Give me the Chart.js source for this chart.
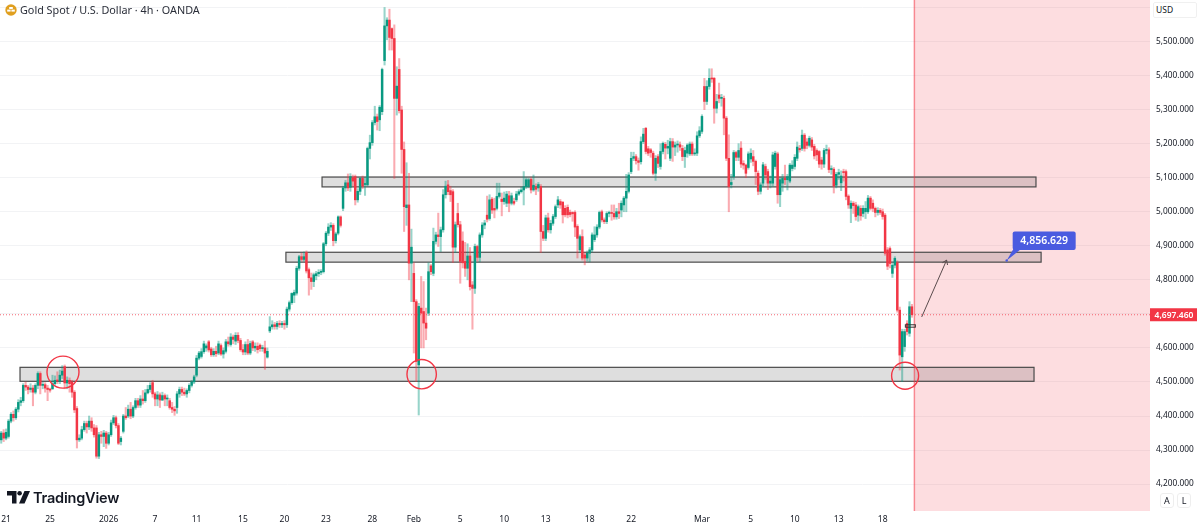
<!DOCTYPE html>
<html>
<head>
<meta charset="utf-8">
<title>Gold Spot / U.S. Dollar</title>
<script src="https://cdn.jsdelivr.net/npm/chart.js@4/dist/chart.umd.min.js"></script>
<style>
    html, body { margin: 0; padding: 0; background: #fff; overflow: hidden; }
    #wrap { position: relative; width: 1200px; height: 527px; font-family: "Noto Sans", sans-serif; color: #131722; }
    canvas { position: absolute; left: 0; top: 0; }
    .title { position: absolute; left: 20px; top: 1px; font-size: 10.8px; line-height: 17px; white-space: nowrap; color: #2a2e39; }
    .usd { position: absolute; left: 1153px; top: 2px; width: 44px; height: 16px; box-sizing: border-box; background: #fff; border: 1px solid #f0f0f0; border-radius: 2px; font-size: 8.5px; line-height: 14px; padding-left: 2px; }
    .btn { position: absolute; top: 493px; width: 14px; height: 15px; box-sizing: border-box; background: #fff; border: 1px solid #eee; border-radius: 3px; font-size: 9px; line-height: 13px; text-align: center; }
    .brand { position: absolute; left: 33px; top: 487px; font-family: Inter, sans-serif; font-weight: 600; font-size: 14.5px; line-height: 21px; color: #131722; letter-spacing: -0.2px; }
    svg { position: absolute; }
</style>
</head>
<body>
<div id="wrap">
    <canvas id="goldChart" width="1200" height="527"></canvas>
    <svg style="left:5px;top:4px" width="12" height="12" viewBox="0 0 12 12">
        <circle cx="6" cy="6" r="5.7" fill="#E09F1F"/>
        <rect x="4.2" y="3" width="3.6" height="2" fill="#fff"/>
        <rect x="2.2" y="5.6" width="3.4" height="2" fill="#fff"/>
        <rect x="6.4" y="5.6" width="3.4" height="2" fill="#fff"/>
    </svg>
    <div class="title">Gold Spot / U.S. Dollar · 4h · OANDA</div>
    <div class="usd">USD</div>
    <div class="btn" style="left:1160px">A</div>
    <div class="btn" style="left:1177px">L</div>
    <svg style="left:7px;top:491px" width="24" height="13" viewBox="0 0 24 13">
        <path d="M0 0H9.5V12.5H5V4.5H0Z" fill="#131722"/>
        <circle cx="12.6" cy="2.3" r="2.3" fill="#131722"/>
        <path d="M17.5 0H23L17.5 12.5H12Z" fill="#131722"/>
    </svg>
    <div class="brand">TradingView</div>
</div>
<script>
// 4h candles
const opens = [
    4330,4350,4335,4340,4385,4405,4395,4420,4440,4445,
    4490,4485,4478,4482,4470,4490,4525,4490,4492,4482,
    4478,4480,4495,4505,4503,4520,4545,4497,4505,4500,
    4470,4422,4330,4335,4360,4378,4368,4385,4365,4365,
    4282,4345,4340,4350,4320,4345,4380,4395,4372,4325,
    4355,4400,4400,4420,4400,4425,4445,4432,4450,4445,
    4468,4478,4498,4465,4450,4462,4447,4460,4450,4445,
    4425,4420,4425,4465,4478,4470,4465,4475,4490,4500,
    4520,4570,4575,4589,4600,4618,4597,4580,4590,4585,
    4607,4582,4590,4618,4610,4632,4620,4637,4622,4595,
    4588,4610,4585,4618,4600,4605,4608,4598,4600,4573,
    4650,4662,4668,4663,4672,4668,4672,4668,4714,4733,
    4755,4761,4834,4868,4860,4880,4830,4806,4795,4812,
    4818,4822,4824,4906,4937,4955,4960,4915,4937,4985,
    5010,5070,5085,5072,5100,5103,5035,5060,5098,5080,
    5079,5186,5203,5262,5279,5270,5294,5444,5546,5563,
    5538,5509,5333,5418,5299,5183,5012,5020,4849,4819,
    4736,4550,4717,4707,4673,4702,4841,4819,4913,4932,
    4927,4947,5050,5079,5062,5059,4896,4995,4962,4914,
    4854,4834,4870,4785,4775,4898,4866,4932,4961,4990,
    4980,5037,5010,5010,5045,5037,5030,5025,5047,5025,
    5030,5035,5052,5059,5064,5074,5074,5095,5064,5073,
    5070,5074,4942,4922,4982,4947,4966,4986,5020,5030,
    5028,5010,5013,4998,4998,4998,4957,4888,4927,4873,
    4864,4878,4888,4918,4932,4955,5000,4976,4971,4995,
    4998,4995,4985,5000,5005,5020,5040,5060,5118,5157,
    5162,5150,5147,5206,5245,5185,5182,5172,5113,5162,
    5133,5177,5198,5187,5157,5206,5190,5196,5197,5186,
    5162,5172,5170,5199,5170,5172,5223,5236,5368,5324,
    5368,5392,5392,5304,5343,5333,5333,5275,5157,5080,
    5103,5174,5160,5187,5142,5137,5130,5155,5162,5148,
    5113,5060,5084,5133,5118,5084,5084,5133,5170,5050,
    5084,5098,5094,5090,5127,5133,5157,5186,5186,5225,
    5205,5195,5211,5192,5180,5177,5152,5140,5180,5182,
    5124,5125,5078,5110,5085,5118,5118,5046,5010,5025,
    5020,4990,5010,4995,5000,5000,5040,5025,5010,4998,
    5004,5000,4990,4888,4892,4819,4843,4850,4711,4574,
    4604,4672,4643,4721
];
const closes = [
    4350,4335,4352,4385,4405,4395,4420,4440,4445,4490,
    4485,4478,4482,4470,4490,4525,4490,4492,4482,4478,
    4476,4495,4505,4503,4520,4532,4497,4505,4495,4470,
    4418,4330,4335,4360,4378,4368,4385,4365,4345,4282,
    4345,4340,4350,4320,4345,4380,4395,4372,4320,4335,
    4400,4395,4420,4400,4425,4445,4432,4450,4445,4468,
    4478,4490,4465,4450,4462,4447,4460,4450,4452,4425,
    4420,4415,4465,4478,4470,4465,4475,4490,4500,4515,
    4570,4585,4589,4612,4606,4594,4580,4590,4583,4612,
    4582,4592,4618,4612,4632,4625,4637,4622,4595,4588,
    4610,4585,4613,4600,4605,4595,4598,4600,4585,4590,
    4662,4668,4663,4672,4668,4672,4668,4714,4733,4760,
    4763,4834,4868,4860,4868,4826,4806,4795,4815,4818,
    4822,4824,4906,4937,4955,4960,4915,4935,4985,4960,
    5070,5085,5070,5103,5090,5035,5060,5098,5075,5083,
    5186,5203,5262,5279,5265,5307,5418,5546,5563,5512,
    5509,5333,5369,5297,5183,5015,5020,4849,4896,4736,
    4560,4722,4702,4673,4658,4824,4824,4913,4932,4927,
    4947,5050,5075,5059,5050,4896,4962,4962,4854,4850,
    4834,4870,4780,4775,4898,4866,4932,4961,4967,4978,
    5035,5005,5005,5045,5055,5030,5040,5052,5025,5047,
    5025,5052,5059,5064,5074,5094,5094,5064,5078,5066,
    5080,4942,4922,4982,4947,4966,4986,5015,5035,5020,
    4991,4991,4991,4992,4994,4955,4922,4927,4864,4864,
    4878,4888,4932,4932,4955,4998,4976,4971,4995,4998,
    4995,4985,5000,4995,5025,5040,5060,5108,5157,5162,
    5150,5145,5206,5228,5177,5172,5174,5113,5157,5142,
    5177,5201,5187,5192,5206,5190,5196,5197,5190,5162,
    5180,5196,5199,5170,5172,5223,5238,5280,5324,5368,
    5392,5390,5304,5324,5333,5336,5275,5157,5074,5086,
    5174,5160,5180,5140,5137,5113,5170,5172,5148,5118,
    5060,5079,5138,5108,5084,5090,5167,5172,5050,5094,
    5098,5094,5103,5137,5137,5160,5190,5182,5225,5186,
    5195,5216,5190,5164,5167,5140,5140,5180,5182,5124,
    5126,5076,5110,5115,5105,5115,5045,5020,5025,5018,
    4986,5015,4988,5010,5010,5040,5010,5010,4998,5004,
    4998,4986,4878,4840,4848,4843,4863,4711,4579,4648,
    4648,4648,4721,4697.46
];
const highs = [
    4355,4360,4362,4390,4410,4415,4425,4448,4455,4495,
    4500,4490,4495,4490,4495,4530,4530,4500,4498,4490,
    4482,4520,4518,4530,4535,4548,4550,4515,4512,4505,
    4475,4428,4345,4370,4385,4385,4400,4395,4375,4372,
    4352,4355,4358,4355,4352,4388,4402,4400,4378,4340,
    4405,4425,4432,4440,4430,4452,4452,4460,4475,4478,
    4490,4498,4505,4470,4472,4468,4470,4465,4462,4452,
    4440,4428,4472,4485,4485,4482,4480,4495,4505,4520,
    4578,4590,4598,4620,4612,4622,4602,4598,4605,4620,
    4612,4600,4625,4632,4642,4638,4645,4645,4628,4610,
    4618,4625,4620,4622,4615,4615,4612,4608,4620,4600,
    4692,4680,4675,4678,4680,4678,4680,4720,4738,4762,
    4770,4840,4872,4878,4882,4885,4835,4820,4820,4825,
    4830,4830,4910,4942,4965,4968,4965,4940,4988,4988,
    5075,5092,5111,5112,5108,5108,5068,5100,5105,5100,
    5190,5225,5268,5310,5287,5312,5422,5600,5570,5595,
    5540,5549,5426,5450,5310,5205,5144,5113,4949,4850,
    4742,4731,4810,4795,4717,4850,4845,4952,4940,4996,
    4955,5065,5090,5092,5075,5065,4970,5025,4972,4941,
    4910,4906,4895,4795,4905,4902,4938,4968,4975,5046,
    5050,5042,5040,5084,5084,5055,5058,5060,5060,5055,
    5040,5060,5065,5072,5118,5100,5098,5100,5108,5082,
    5086,5080,4960,4990,4996,4975,4992,5020,5045,5036,
    5030,5018,5020,5005,5000,5003,4962,4932,4947,4880,
    4885,4895,4938,4956,4962,5002,5005,4982,5000,5002,
    5020,5020,5010,5025,5032,5045,5110,5115,5175,5175,
    5168,5158,5220,5245,5248,5192,5186,5178,5165,5168,
    5200,5205,5204,5210,5216,5215,5205,5208,5205,5195,
    5190,5200,5205,5205,5185,5235,5250,5285,5392,5385,
    5420,5420,5395,5345,5378,5345,5340,5280,5226,5110,
    5180,5178,5200,5206,5150,5140,5176,5185,5180,5152,
    5120,5085,5145,5140,5125,5105,5175,5178,5175,5100,
    5110,5137,5110,5142,5150,5168,5205,5195,5240,5230,
    5215,5222,5218,5198,5185,5180,5160,5186,5196,5188,
    5135,5130,5116,5125,5120,5125,5123,5050,5032,5030,
    5028,5020,5018,5018,5030,5048,5045,5035,5014,5012,
    5010,5008,4995,4895,4897,4850,4868,4856,4720,4655,
    4655,4680,4736,4728
];
const lows = [
    4320,4325,4330,4335,4380,4385,4390,4412,4430,4440,
    4475,4465,4470,4430,4465,4480,4465,4480,4470,4445,
    4470,4478,4490,4495,4495,4510,4480,4480,4470,4455,
    4410,4306,4325,4330,4355,4350,4360,4355,4338,4276,
    4275,4320,4310,4305,4315,4340,4375,4365,4316,4315,
    4350,4390,4395,4392,4395,4420,4425,4425,4435,4440,
    4465,4470,4455,4430,4430,4425,4445,4430,4430,4420,
    4410,4402,4408,4455,4460,4460,4455,4468,4485,4495,
    4515,4565,4570,4584,4590,4588,4575,4575,4575,4580,
    4578,4570,4585,4605,4605,4612,4610,4615,4590,4580,
    4580,4580,4580,4592,4590,4585,4590,4590,4537,4570,
    4645,4655,4655,4655,4660,4660,4655,4660,4708,4728,
    4733,4755,4828,4855,4855,4820,4755,4772,4780,4800,
    4810,4815,4820,4900,4930,4945,4900,4908,4932,4955,
    5003,5060,5062,5060,5075,5020,5028,5050,5068,5048,
    5075,5155,5195,5255,5240,5238,5285,5431,5505,5475,
    5475,5098,5284,5290,5113,4942,4960,4800,4736,4585,
    4501,4403,4600,4600,4624,4695,4815,4812,4905,4898,
    4883,4940,5040,5050,5030,4851,4880,4955,4790,4835,
    4810,4800,4770,4655,4760,4855,4853,4925,4950,4970,
    4975,4995,4982,5005,5040,4988,5022,5015,5000,5020,
    5020,5030,5048,5055,5020,5068,5070,5055,5060,5050,
    5060,4880,4915,4915,4940,4937,4960,4980,5012,5010,
    4967,4985,4982,4985,4972,4927,4864,4880,4858,4844,
    4855,4853,4882,4912,4925,4950,4970,4965,4965,4985,
    4975,4978,4978,4980,4985,5000,5000,5055,5112,5150,
    5140,5122,5140,5200,5170,5165,5160,5108,5092,5130,
    5125,5170,5155,5170,5150,5148,5165,5175,5180,5150,
    5130,5160,5165,5165,5165,5165,5218,5230,5300,5315,
    5360,5380,5260,5290,5320,5310,5226,5150,5000,5070,
    5095,5150,5150,5130,5125,5100,5125,5145,5135,5080,
    5050,5052,5075,5095,5065,5070,5075,5125,5025,5015,
    5060,5080,5064,5085,5120,5125,5150,5175,5180,5178,
    5185,5190,5180,5155,5150,5130,5125,5130,5170,5115,
    5110,5055,5070,5095,5062,5090,5035,5010,4968,4995,
    4975,4972,4975,4985,4980,4995,5005,5000,4985,4990,
    4992,4978,4872,4830,4835,4807,4835,4705,4535,4501,
    4590,4638,4634,4690
];

const totalSlots = 471;   // candles plus the empty space on the right
const dateTickSlots = [2, 20, 44, 63, 80, 99, 116, 133, 152, 169, 188, 206, 223, 241, 258, 287, 307, 325, 343, 361];
const dateTickLabels = ['21', '25', '2026', '7', '11', '15', '20', '23', '28', 'Feb', '5', '10', '13', '18', '22', 'Mar', '5', '10', '13', '18'];
const priceTicks = [4200, 4300, 4400, 4500, 4600, 4700, 4800, 4900, 5000, 5100, 5200, 5300, 5400, 5500, 5600];

const lastPrice = 4697.46;
const targetPrice = 4856.629;
const sessionEnd = 374;

// drawing tools, in slot / price units: [from, to, top, bottom]
const zones = [
    [131.4, 423.8, 5102, 5073],
    [116.6, 425.9, 4881, 4852],
    [7.7, 423, 4543, 4502]
];
const smallBox = [370.3, 374.4, 4668, 4661];
// [slot, price, radius px]
const circles = [
    [25.3, 4529, 16],
    [172.2, 4523, 14.7],
    [370.2, 4518.5, 13.5]
];
const arrowLine = [377, 4691, 387.2, 4858];
const calloutSlot = 411.8;

const UP = '#089981';
const DOWN = '#F23645';
const UP_WICK = 'rgba(8,153,129,0.42)';
const DOWN_WICK = 'rgba(242,54,69,0.42)';

function formatPrice(v) {
    return v.toLocaleString('en-US', { minimumFractionDigits: 3, maximumFractionDigits: 3 });
}

// zones and the future shading go under the candles, the rest on top
const drawingsPlugin = {
    id: 'drawings',
    beforeDatasetsDraw(chart) {
        const { ctx, chartArea, scales: { x, y } } = chart;
        const endX = x.getPixelForValue(sessionEnd);
        ctx.save();
        ctx.fillStyle = 'rgba(242,54,69,0.17)';
        ctx.fillRect(endX, chartArea.top, chartArea.right - endX, chartArea.bottom - chartArea.top);
        zones.forEach(z => {
            const left = x.getPixelForValue(z[0]), right = x.getPixelForValue(z[1]);
            const top = y.getPixelForValue(z[2]), bottom = y.getPixelForValue(z[3]);
            ctx.fillStyle = 'rgba(0,0,0,0.13)';
            ctx.fillRect(left, top, right - left, bottom - top);
            ctx.strokeStyle = '#4a4a4a';
            ctx.lineWidth = 1.2;
            ctx.strokeRect(left, top, right - left, bottom - top);
        });
        ctx.restore();
    },
    afterDatasetsDraw(chart) {
        const { ctx, chartArea, scales: { x, y } } = chart;
        const endX = x.getPixelForValue(sessionEnd);
        const lastY = y.getPixelForValue(lastPrice);
        ctx.save();

        // session end line
        ctx.strokeStyle = 'rgba(242,54,69,0.55)';
        ctx.lineWidth = 1.5;
        ctx.beginPath();
        ctx.moveTo(endX, chartArea.top);
        ctx.lineTo(endX, chartArea.bottom);
        ctx.stroke();

        // last price line
        ctx.setLineDash([1, 2]);
        ctx.lineWidth = 1;
        ctx.strokeStyle = 'rgba(242,54,69,0.75)';
        ctx.beginPath();
        ctx.moveTo(chartArea.left, lastY);
        ctx.lineTo(chartArea.right, lastY);
        ctx.stroke();
        ctx.setLineDash([]);

        // circles
        ctx.strokeStyle = DOWN;
        ctx.lineWidth = 1.4;
        circles.forEach(c => {
            ctx.beginPath();
            ctx.arc(x.getPixelForValue(c[0]), y.getPixelForValue(c[1]), c[2], 0, Math.PI * 2);
            ctx.stroke();
        });

        // small box on the last candles
        const bl = x.getPixelForValue(smallBox[0]), br = x.getPixelForValue(smallBox[1]);
        const bt = y.getPixelForValue(smallBox[2]), bb = y.getPixelForValue(smallBox[3]);
        ctx.strokeStyle = '#333';
        ctx.lineWidth = 1;
        ctx.strokeRect(bl, bt, br - bl, bb - bt);

        // arrow
        const ax = x.getPixelForValue(arrowLine[0]), ay = y.getPixelForValue(arrowLine[1]);
        const tx = x.getPixelForValue(arrowLine[2]), ty = y.getPixelForValue(arrowLine[3]);
        const ang = Math.atan2(ty - ay, tx - ax);
        ctx.strokeStyle = '#5a4b4d';
        ctx.beginPath();
        ctx.moveTo(ax, ay);
        ctx.lineTo(tx, ty);
        ctx.moveTo(tx - 5 * Math.cos(ang - 0.6), ty - 5 * Math.sin(ang - 0.6));
        ctx.lineTo(tx, ty);
        ctx.lineTo(tx - 5 * Math.cos(ang + 0.6), ty - 5 * Math.sin(ang + 0.6));
        ctx.stroke();

        // blue price callout
        const px = x.getPixelForValue(calloutSlot), py = y.getPixelForValue(targetPrice);
        ctx.fillStyle = '#4A5BE0';
        ctx.beginPath();
        ctx.moveTo(px, py);
        ctx.lineTo(px + 7, py - 12);
        ctx.lineTo(px + 15, py - 12);
        ctx.closePath();
        ctx.fill();
        ctx.beginPath();
        ctx.roundRect(px + 6, py - 29, 63, 18.5, 2);
        ctx.fill();
        ctx.beginPath();
        ctx.arc(px, py, 1.2, 0, Math.PI * 2);
        ctx.fill();
        ctx.fillStyle = '#fff';
        ctx.font = '600 10.5px "Noto Sans"';
        ctx.textAlign = 'center';
        ctx.textBaseline = 'middle';
        ctx.fillText(formatPrice(targetPrice), px + 37.5, py - 19.5);

        // last price tag on the axis
        ctx.fillStyle = DOWN;
        ctx.fillRect(chartArea.right, lastY - 6.5, 47, 13);
        ctx.fillStyle = '#fff';
        ctx.font = '600 8.5px "Noto Sans"';
        ctx.fillText(formatPrice(lastPrice), chartArea.right + 24, lastY + 0.5);
        ctx.restore();
    }
};

const labels = [];
for (let i = 0; i < totalSlots; i++) {
    const k = dateTickSlots.indexOf(i);
    labels.push(k >= 0 ? dateTickLabels[k] : '');
}

const wickData = [], bodyData = [], wickColors = [], bodyColors = [];
closes.forEach((c, i) => {
    wickData.push([lows[i], highs[i]]);
    bodyData.push([opens[i], c]);
    wickColors.push(c >= opens[i] ? UP_WICK : DOWN_WICK);
    bodyColors.push(c >= opens[i] ? UP : DOWN);
});

function noPadding(scale) {
    scale.paddingTop = scale.paddingBottom = scale.paddingLeft = scale.paddingRight = 0;
}

new Chart(document.getElementById('goldChart'), {
    type: 'bar',
    data: {
        labels: labels,
        datasets: [{
            label: 'Body',
            data: bodyData,
            backgroundColor: bodyColors,
            barThickness: 1.8,
            minBarLength: 1,
            order: 1
        }, {
            label: 'Wick',
            data: wickData,
            backgroundColor: wickColors,
            barThickness: 1.4,
            order: 2
        }]
    },
    options: {
        responsive: false,
        animation: false,
        devicePixelRatio: 1,
        datasets: { bar: { grouped: false } },
        layout: { padding: 0 },
        plugins: { legend: { display: false }, tooltip: { enabled: false } },
        scales: {
            x: {
                grid: { display: false, drawTicks: false },
                border: { display: false },
                ticks: {
                    autoSkip: false,
                    maxRotation: 0,
                    padding: 3,
                    color: '#131722',
                    font: { family: 'Noto Sans', size: 8.5 },
                    callback: function(value, index) { return labels[index]; }
                },
                afterFit: function(scale) { scale.height = 16; noPadding(scale); }
            },
            y: {
                position: 'right',
                min: 4121,
                max: 5622,
                grid: { color: '#f2f3f5', drawTicks: false },
                border: { display: false },
                afterBuildTicks: function(scale) { scale.ticks = priceTicks.map(v => ({ value: v })); },
                ticks: {
                    padding: 6,
                    color: '#131722',
                    font: { family: 'Noto Sans', size: 8.3 },
                    callback: function(value) { return value > 5500 ? '' : formatPrice(value); }
                },
                afterFit: function(scale) { scale.width = 50; noPadding(scale); }
            }
        }
    },
    plugins: [drawingsPlugin]
});
</script>
</body>
</html>
